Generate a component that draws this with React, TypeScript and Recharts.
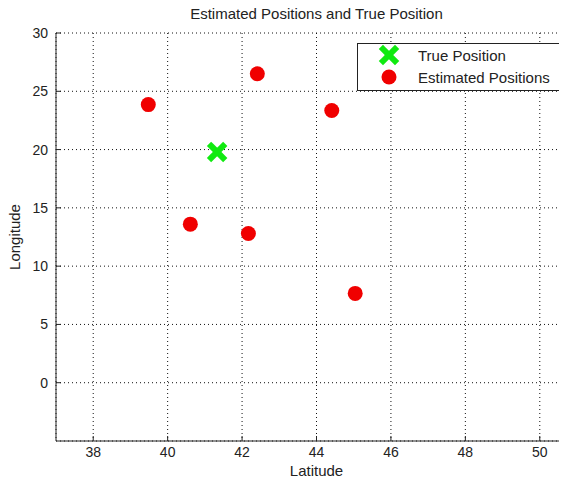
import {
  ScatterChart, Scatter, XAxis, YAxis, CartesianGrid, Legend,
} from 'recharts'

const trueLat = [41.33]
const trueLon = [19.8]
const estLat = [39.48, 42.41, 44.41, 40.61, 42.17, 45.04]
const estLon = [23.86, 26.5, 23.35, 13.6, 12.8, 7.66]

const latTicks = [38, 40, 42, 44, 46, 48, 50]
const lonTicks = [0, 5, 10, 15, 20, 25, 30]

const truePoints = trueLat.map((x, i) => ({ x, y: trueLon[i] }))
const estPoints = estLat.map((x, i) => ({ x, y: estLon[i] }))

const FONT = '"Liberation Sans", Arial, sans-serif'
const GREEN = '#10ea10'
const RED = '#f00000'
const INK = '#222'

const Cross = ({ cx, cy }: any) => (
  <g>
    <line x1={cx - 6} y1={cy - 6} x2={cx + 6} y2={cy + 6} stroke={GREEN} strokeWidth={6} strokeLinecap="square" />
    <line x1={cx - 6} y1={cy + 6} x2={cx + 6} y2={cy - 6} stroke={GREEN} strokeWidth={6} strokeLinecap="square" />
  </g>
)

const Dot = ({ cx, cy }: any) => <circle cx={cx} cy={cy} r={7.5} fill={RED} />

const LegendBox = () => (
  <div style={{
    width: 203, height: 46, border: `1px solid ${INK}`, background: '#fff',
    fontFamily: FONT, fontSize: 15, lineHeight: '17px', color: INK, position: 'relative',
  }}>
    <svg width={60} height={46} style={{ position: 'absolute', left: 0, top: 0 }}>
      <Cross cx={31} cy={11} />
      <Dot cx={31} cy={33} />
    </svg>
    <div style={{ position: 'absolute', left: 60, top: 3, whiteSpace: 'nowrap' }}>True Position</div>
    <div style={{ position: 'absolute', left: 60, top: 25, whiteSpace: 'nowrap' }}>Estimated Positions</div>
  </div>
)

export default function App() {
  const label = { fontFamily: FONT, fontSize: 15, color: INK, whiteSpace: 'nowrap' as const }
  return (
    <div style={{ margin: -8, width: 567, height: 487, overflow: 'hidden', background: '#fff', position: 'relative' }}>
      <div style={{ ...label, position: 'absolute', top: 5, left: 56, width: 521, textAlign: 'center' }}>
        Estimated Positions and True Position
      </div>
      <div style={{ ...label, position: 'absolute', top: 462, left: 56, width: 521, textAlign: 'center' }}>
        Latitude
      </div>
      <div style={{
        ...label, position: 'absolute', left: 14, top: 237,
        transform: 'translate(-50%, -50%) rotate(-90deg)',
      }}>
        Longitude
      </div>
      <ScatterChart width={590} height={487} margin={{ top: 33, right: 13, bottom: 0, left: 0 }}>
        <CartesianGrid stroke="#111" strokeDasharray="1 3" />
        <XAxis
          type="number" dataKey="x" domain={[37, 51]} ticks={latTicks} height={46}
          tickSize={-5} tickMargin={11} allowDataOverflow
          stroke={INK} tick={{ fill: INK, fontSize: 14, fontFamily: FONT }}
        />
        <XAxis
          xAxisId="top" orientation="top" type="number" dataKey="x" domain={[37, 51]} ticks={latTicks}
          height={0} tickSize={-5} tickFormatter={() => ''} stroke={INK}
        />
        <YAxis
          type="number" dataKey="y" domain={[-5, 30]} ticks={lonTicks} width={56}
          tickSize={-5} tickMargin={13} allowDataOverflow
          stroke={INK} tick={{ fill: INK, fontSize: 14, fontFamily: FONT }}
        />
        <Legend
          layout="vertical" align="center" verticalAlign="middle"
          wrapperStyle={{ left: 357, top: 43, width: 205, height: 48 }}
          content={() => <LegendBox />}
        />
        <Scatter name="Estimated Positions" data={estPoints} shape={<Dot />} isAnimationActive={false} />
        <Scatter name="True Position" data={truePoints} shape={<Cross />} isAnimationActive={false} />
      </ScatterChart>
    </div>
  )
}
